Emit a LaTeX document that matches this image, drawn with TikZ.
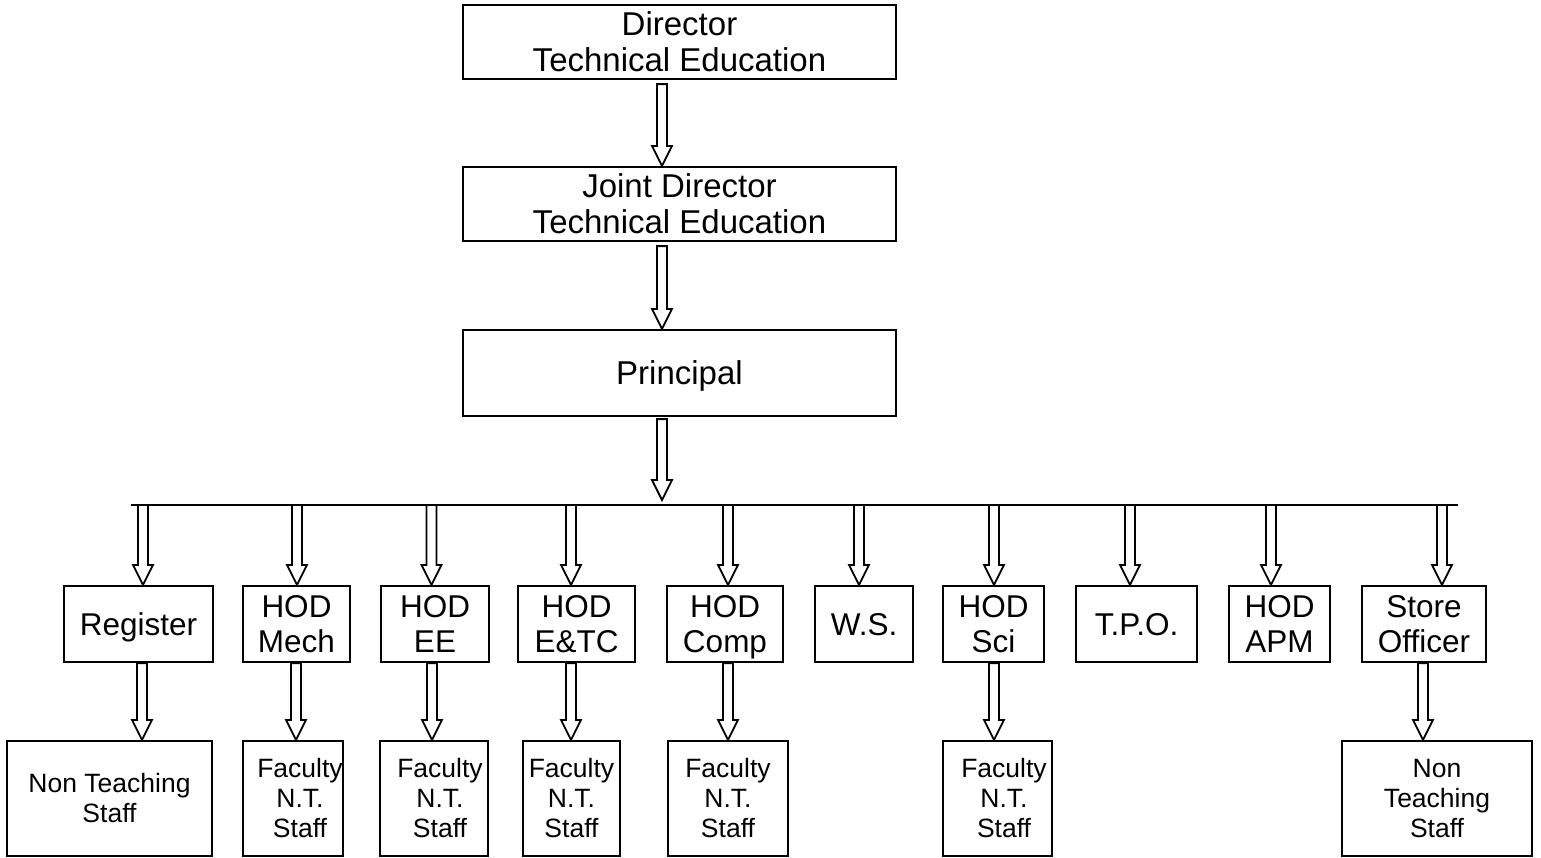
\documentclass[tikz,border=0pt]{standalone}
\usepackage{fontspec}
\setmainfont{Liberation Sans}
\usetikzlibrary{calc}
\tikzset{
  box/.style={draw, line width=2.2pt, inner sep=0pt, align=center},
  big/.style={font=\fontsize{33}{36}\selectfont, text depth=0pt},
  mid/.style={font=\fontsize{31.5}{35}\selectfont, minimum height=76pt, text depth=0pt},
  small/.style={font=\fontsize{26.5}{30}\selectfont, minimum height=115pt},
  smalltxt/.style={font=\fontsize{26.5}{30}\selectfont, align=center, inner sep=0pt},
  blockarrow/.style={draw, line width=1.8pt, fill=white, line join=miter},
  busline/.style={draw, line width=2pt}
}
% #1 = gap below source, #2 = x, #3 = source, #4 = target
\newcommand{\blockarr}[4][0]{%
  \draw[blockarrow] let \p1=(#3), \p2=(#4) in
   (#2-5,\y1-#1) -- (#2-5,\y2+20) -- (#2-10,\y2+20) -- (#2,\y2) -- (#2+10,\y2+20)
   -- (#2+5,\y2+20) -- (#2+5,\y1-#1) -- cycle;}
\begin{document}
\begin{tikzpicture}[x=1pt,y=1pt]
\useasboundingbox (0,0) rectangle (1541,-857);
% top chain
\node[box,big,minimum width=433pt,minimum height=74pt] (dir) at (679.5,-42) {Director\\Technical Education};
\node[box,big,minimum width=433pt,minimum height=74pt] (jd) at (679.5,-204) {Joint Director\\Technical Education};
\node[box,big,minimum width=433pt,minimum height=86pt] (pri) at (679.5,-373) {Principal};
% bus
\coordinate (busL) at (131,-505);
\coordinate (busR) at (1458,-505);
\coordinate (bustip) at (662,-500);
\draw[busline] (busL) -- (busR);
% level 2
\node[box,mid,minimum width=149pt] (reg) at (138.5,-624) {Register};
\node[box,mid,minimum width=107pt] (mech) at (296.5,-624) {HOD\\Mech};
\node[box,mid,minimum width=108pt] (ee) at (435,-624) {HOD\\EE};
\node[box,mid,minimum width=117pt] (etc) at (576.5,-624) {HOD\\E\&TC};
\node[box,mid,minimum width=116pt] (comp) at (725,-624) {HOD\\Comp};
\node[box,mid,minimum width=98pt] (ws) at (864,-624) {W.S.};
\node[box,mid,minimum width=101pt] (sci) at (993.5,-624) {HOD\\Sci};
\node[box,mid,minimum width=121pt] (tpo) at (1136.5,-624) {T.P.O.};
\node[box,mid,minimum width=101pt] (apm) at (1279.5,-624) {HOD\\APM};
\node[box,mid,minimum width=124pt] (store) at (1424,-624) {Store\\Officer};
% level 3
\node[box,small,minimum width=205pt] (nts1) at (109.5,-798.5) {Non Teaching\\Staff};
\node[box,small,minimum width=100pt] (fmech) at (293,-798.5) {};
\node[smalltxt] (fmecht) at (300,-798.5) {Faculty\\N.T.\\Staff};
\node[box,small,minimum width=108pt] (fee) at (434,-798.5) {};
\node[smalltxt] (feet) at (440,-798.5) {Faculty\\N.T.\\Staff};
\node[box,small,minimum width=97pt] (fetc) at (571.5,-798.5) {Faculty\\N.T.\\Staff};
\node[box,small,minimum width=120pt] (fcomp) at (728,-798.5) {Faculty\\N.T.\\Staff};
\node[box,small,minimum width=109pt] (fsci) at (997.5,-798.5) {};
\node[smalltxt] (fscit) at (1004,-798.5) {Faculty\\N.T.\\Staff};
\node[box,small,minimum width=190pt] (nts2) at (1437,-798.5) {Non\\Teaching\\Staff};
% top arrows
\blockarr[4]{662}{dir.south}{jd.north}
\blockarr[4]{662}{jd.south}{pri.north}
\blockarr[2]{662}{pri.south}{bustip}
% level 2 arrows
\blockarr{143}{busL}{reg.north}
\blockarr{297}{busL}{mech.north}
\blockarr{431.5}{busL}{ee.north}
\blockarr{571}{busL}{etc.north}
\blockarr{728}{busL}{comp.north}
\blockarr{859}{busL}{ws.north}
\blockarr{994}{busL}{sci.north}
\blockarr{1130}{busL}{tpo.north}
\blockarr{1271}{busL}{apm.north}
\blockarr{1442}{busL}{store.north}
% level 3 arrows
\blockarr{142}{reg.south}{nts1.north}
\blockarr{296}{mech.south}{fmech.north}
\blockarr{432}{ee.south}{fee.north}
\blockarr{571}{etc.south}{fetc.north}
\blockarr{728}{comp.south}{fcomp.north}
\blockarr{994}{sci.south}{fsci.north}
\blockarr{1423}{store.south}{nts2.north}
\end{tikzpicture}
\end{document}
